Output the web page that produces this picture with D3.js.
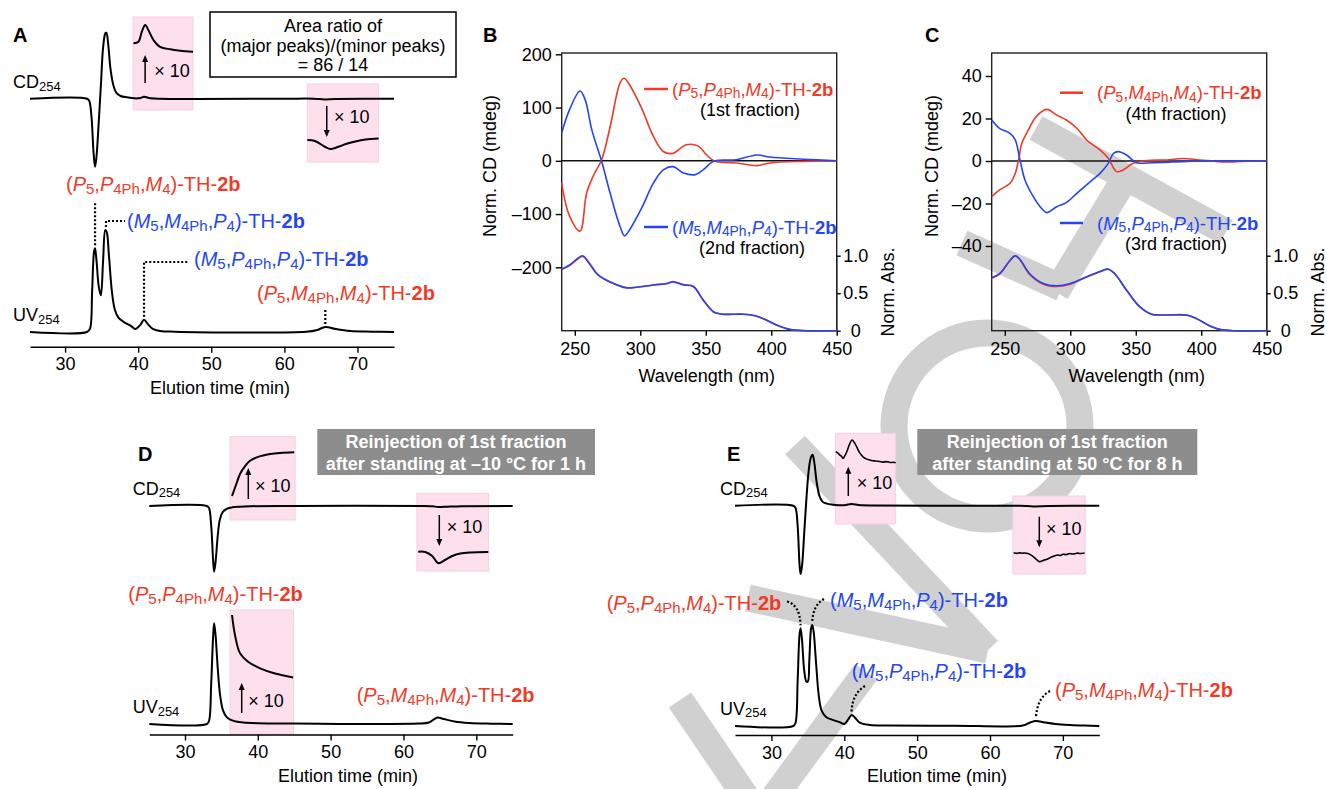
<!DOCTYPE html>
<html><head><meta charset="utf-8">
<script src="https://cdn.jsdelivr.net/npm/d3@7"></script>
<style>body{margin:0;background:#fff}svg{display:block;font-family:"Liberation Sans",Arial,Helvetica,sans-serif}</style>
</head><body><svg id="c" width="1327" height="789"></svg>
<script>
// ---------------- DATA ----------------
const timeTicks = [30, 40, 50, 60, 70];
const wlTicks = [250, 300, 350, 400, 450];
const cdTicksB = [200, 100, 0, -100, -200];
const cdTicksC = [40, 20, 0, -20, -40];
const absTicks = [0, 0.5, 1.0];

// Panel A chromatograms (time min, relative signal)
const aCdT = [25.2,33.0,33.3,33.6,33.9,34.1,34.3,34.6,34.9,35.2,35.5,35.65,35.9,36.2,36.6,37.0,37.6,38.5,39.5,40.3,40.8,41.5,43,60,64,65.5,67,75];
const aCdV = [0,0,-3,-25,-80,-100,-85,-35,20,75,96,97,80,45,20,9,4,2,0.5,1,3,1,0,0,0,-1,-0.5,0];
const aUvT = [25.2,33.0,33.4,33.7,33.95,34.1,34.3,34.6,34.9,35.2,35.5,35.7,36.0,36.4,36.8,37.3,38.0,39.0,39.6,40.3,40.8,41.3,42,43,45,63,64.5,65.6,67,69,72,75];
const aUvV = [0,0,3,40,78,82,70,45,36,70,100,98,75,40,22,14,10,6,3,7,12,8,3,1,0.3,0.2,2,5,3,1,0.3,0];
const aIn1T = [39.36,40.04,40.5,40.96,41.4,42.1,43.0,44.4,45.75,47.5];
const aIn1V = [32,38,75,100,81,44,19,10,5,1];
const aIn2T = [63.15,64.2,65.6,66.3,67.3,68.4,69.7,71.1,72.9];
const aIn2V = [-18,-27,-82,-100,-82,-55,-32,-14,-5];

// Panel D
const dCdT = [25.1,33.0,33.3,33.6,33.85,34.0,34.2,34.5,34.8,35.2,35.8,36.5,37.5,39,45,63,64,64.8,66,68,75];
const dCdV = [0,0,-3,-30,-80,-100,-85,-45,-20,-9,-4,-2,-1,-0.3,0,0,-0.5,-1.5,-1,-0.3,0];
const dUvT = [25.1,33.0,33.3,33.6,33.85,34.0,34.2,34.5,34.8,35.2,35.7,36.3,37,38,40,45,62,63.5,64.6,65.5,67,69,72,75];
const dUvV = [0,0,3,40,85,100,88,55,30,14,7,4,2.5,1.5,0.8,0.5,0.4,1.5,6.3,5,2.5,1,0.3,0];
const dIn1T = [36.46,37.0,37.56,38.25,38.93,40.03,41.68,43.06,45.0];
const dIn1V = [-100,-75,-50,-32,-20,-11,-4.5,-2,-0.7];
const dIn2T = [62.03,63.0,63.95,64.8,65.7,66.7,67.8,69.2,71.65];
const dIn2V = [-2,-4,-38,-100,-72,-38,-17,-8,-4];
const dInUvT = [36.46,36.87,37.56,38.66,40.31,42.37,44.85];
const dInUvV = [100,69,41,28,18,10,4];

// Panel E
const eCdT = [25,33.0,33.3,33.6,33.85,34.0,34.2,34.5,34.8,35.1,35.4,35.65,35.9,36.2,36.6,37.0,37.6,38.5,40,41,42,44,60,64,66,68,75];
const eCdV = [0,0,-3,-30,-85,-100,-88,-40,10,50,70,74.5,62,35,14,6,3,1.5,0.8,2.5,1,0.3,0,0,-1,-0.5,0];
const eUvT = [25,33.0,33.3,33.6,33.85,34.0,34.2,34.5,34.8,35.0,35.2,35.45,35.6,35.8,36.1,36.5,36.9,37.5,38.4,39.3,40.0,40.5,41.0,41.5,42.2,43.5,46,55,64.5,65.5,66.3,67.5,69,71,73,75];
const eUvV = [0,0,3,45,90,96.7,85,55,44,44,65,97,100,93,65,30,15,9,6,4,2,6,11,8,3,1,0.5,0.3,0.5,3.5,5,3.5,2,1,0.4,0];
const eIn1T = [38.82,39.1,39.37,39.6,39.82,40.05,40.33,40.7,41.06,41.4,41.7,42.1,42.57,43.0,43.49,43.9,44.3,44.86,45.3,45.8,46.3,46.7,47.05];
const eIn1V = [49,44,35,30,20,30,48,80,100,88,70,45,27,18,13,10,9,6.5,4,6,2,3,1.3];
const eIn2T = [63.24,63.7,64.1,64.5,64.75,65.3,65.84,66.3,66.8,67.3,67.9,68.6,69.27,69.7,70.0,70.5,70.92,71.3,71.6,72.0,72.3,72.98];
const eIn2V = [3,-4,2,-3,0,-8,-35,-70,-100,-85,-69,-40,-23,-28,-14,-18,-6,-12,-9,-2,-6,0];

// Panel B spectra
const bRedWl = [240,246,254,259,264,270.5,277,284.5,287.6,292,301,310,317.6,325,335,344,350.7,357,373.6,389,399,424.5,450];
const bRedCD = [-42,-104,-132,-61,-29,2,64,146,155,142,99,46,17.5,14,30,28,11,-1,-4,-9,-4,-1,0];
const bBlueWl = [240,246,254,258,263,270.5,277,284.5,288,292,301,310,317.6,325,333,342,348,356,373.6,389,399,424.5,450];
const bBlueCD = [52,96,131,114,58,-1,-61,-123,-141,-129,-89,-42,-17,-11,-23,-26,-17,-1,2,11,7,3,0];
const bAbsWl = [240,246,256,260,268,277,289.6,297,310,320,325,333,340.5,348,356,363,378.7,387.6,394,404,414,424.5,450];
const bRedAbs = [0.82,0.87,0.99,0.93,0.74,0.65,0.575,0.58,0.61,0.625,0.655,0.615,0.59,0.41,0.25,0.22,0.22,0.2,0.16,0.077,0.02,0.002,0];
const bBlueAbs = [0.82,0.876,1.0,0.92,0.74,0.65,0.57,0.58,0.61,0.63,0.65,0.61,0.59,0.41,0.25,0.22,0.22,0.2,0.16,0.076,0.018,0,0];

// Panel C spectra
const cRedWl = [240,246,254,258,260.5,263,268,274,282,289.6,297,305,312.5,322.7,329,335.4,340.5,348,358,373.6,386,399,419,437,450];
const cRedCD = [-16.8,-13.6,-10.5,-5.8,0.5,8.3,14.6,20.9,24.3,21.6,19.3,15.4,9.9,5.2,1.3,-5,-4.2,-1.1,0.2,0.5,1.2,0.5,-0.5,0,0];
const cBlueWl = [240,246,254,258,261.6,265.4,271.8,277,282,289.6,297,305,313.8,322.7,329,333,336.7,343,350.7,363,378.7,399,450];
const cBlueCD = [19.3,15.4,13,9.9,0.5,-8.9,-16.8,-21.5,-24.3,-21.5,-19.6,-15.2,-10.5,-5.8,-1.1,3.6,4.4,2.8,-0.8,-0.8,-0.5,0,0];
const cAbsWl = [240,246,254,258,261.6,269,279.4,289.6,300,312.5,322.7,329,334,343,353,362,373.6,389,396.6,406.7,414,424.5,450];
const cRedAbs = [0.70,0.755,0.935,0.995,0.945,0.75,0.62,0.59,0.62,0.715,0.785,0.82,0.76,0.54,0.32,0.22,0.21,0.205,0.16,0.062,0.018,0,0];
const cBlueAbs = [0.71,0.76,0.94,1.0,0.95,0.76,0.63,0.6,0.63,0.72,0.79,0.82,0.76,0.54,0.32,0.22,0.21,0.21,0.16,0.062,0.018,0,0];

// Labels
const isoPPM = [["(","n"],["P","i"],["5","s"],[",","n"],["P","i"],["4Ph","s"],[",","n"],["M","i"],["4","s"],[")-TH-","n"],["2b","b"]];
const isoMMP = [["(","n"],["M","i"],["5","s"],[",","n"],["M","i"],["4Ph","s"],[",","n"],["P","i"],["4","s"],[")-TH-","n"],["2b","b"]];
const isoMPP = [["(","n"],["M","i"],["5","s"],[",","n"],["P","i"],["4Ph","s"],[",","n"],["P","i"],["4","s"],[")-TH-","n"],["2b","b"]];
const isoPMM = [["(","n"],["P","i"],["5","s"],[",","n"],["M","i"],["4Ph","s"],[",","n"],["M","i"],["4","s"],[")-TH-","n"],["2b","b"]];
const cdLab = [["CD","n"],["254","s"]];
const uvLab = [["UV","n"],["254","s"]];

// ---------------- DRAW ----------------
const RED = "#ef3a28", BLUE = "#2446f0", PINK = "#fde0ec";
const svg = d3.select("#c");
const zip = (a, b) => a.map((v, i) => [v, b[i]]);

// watermark (under everything)
const wm = svg.append("g").attr("fill", "none").attr("stroke", "#d0d0d0").attr("stroke-width", 27);
wm.append("line").attr("x1", 1036).attr("y1", 128).attr("x2", 1226).attr("y2", 232);
wm.append("line").attr("x1", 962).attr("y1", 243).attr("x2", 1062).attr("y2", 288);
wm.append("line").attr("x1", 1056).attr("y1", 292).attr("x2", 1124).attr("y2", 180);
wm.append("circle").attr("cx", 987).attr("cy", 426).attr("r", 93);
wm.append("line").attr("x1", 795).attr("y1", 445).attr("x2", 988).attr("y2", 650);
wm.append("line").attr("x1", 748).attr("y1", 598).attr("x2", 988).attr("y2", 650);
wm.append("line").attr("x1", 680).attr("y1", 700).attr("x2", 748).attr("y2", 800);
wm.append("line").attr("x1", 772).attr("y1", 800).attr("x2", 866).attr("y2", 672);

function rich(g, x, yc, segs, o) {
  o = o || {};
  const fs = o.fs || 20, sh = fs * 0.15;
  const t = g.append("text").attr("x", x).attr("y", yc + fs * 0.36)
    .attr("font-size", fs).attr("fill", o.color || "#000")
    .attr("text-anchor", o.anchor || "start");
  let shifted = false;
  segs.forEach(([s, k]) => {
    const ts = t.append("tspan").text(s);
    if (k === "s") {
      ts.attr("font-size", fs * (o.sub || 0.75));
      if (!shifted) { ts.attr("dy", sh); shifted = true; }
    } else {
      if (shifted) { ts.attr("dy", -sh); shifted = false; }
      if (k === "i") ts.attr("font-style", "italic");
      if (k === "b") ts.attr("font-weight", "bold");
    }
  });
  return t;
}
function txt(g, x, yc, s, o) {
  o = o || {};
  const fs = o.fs || 18;
  return g.append("text").attr("x", x).attr("y", yc + fs * 0.36).attr("font-size", fs)
    .attr("fill", o.color || "#000").attr("text-anchor", o.anchor || "start")
    .attr("font-weight", o.bold ? "bold" : null).text(s);
}
function arrow(g, x, y1, y2) {
  const dir = y2 < y1 ? -1 : 1;
  g.append("line").attr("x1", x).attr("x2", x).attr("y1", y1).attr("y2", y2 - dir * 6)
    .attr("stroke", "#000").attr("stroke-width", 1.5);
  g.append("path").attr("d", `M${x - 3},${y2 - dir * 7}L${x + 3},${y2 - dir * 7}L${x},${y2}Z`).attr("fill", "#000");
}
const curve = d3.curveCatmullRom.alpha(0.5);
function trace(g, pts, x, y, o) {
  o = o || {};
  g.append("path").datum(pts).attr("fill", "none").attr("stroke", o.color || "#000")
    .attr("stroke-width", o.w || 2).attr("stroke-linejoin", "round")
    .attr("d", d3.line().x(d => x(d[0])).y(d => y(d[1])).curve(curve));
}
function timeAxis(g, x, y, titleX) {
  const ax = g.append("g").attr("transform", `translate(0,${y})`)
    .call(d3.axisBottom(x).tickValues(timeTicks).tickSize(6).tickSizeOuter(0).tickPadding(5));
  ax.attr("font-family", null);
  ax.select(".domain").attr("stroke-width", 1.6);
  ax.selectAll(".tick line").attr("stroke-width", 1.4);
  ax.selectAll("text").attr("font-size", 18);
  txt(g, titleX, y + 41, "Elution time (min)", { anchor: "middle" });
}
function pinkBox(g, x, t0, t1, y0, y1) {
  g.append("rect").attr("x", x(t0)).attr("y", y0).attr("width", x(t1) - x(t0)).attr("height", y1 - y0)
    .attr("fill", PINK).attr("stroke", "#f7cfe0").attr("stroke-width", 1);
}
function dotted(g, d) {
  g.append("path").attr("d", d).attr("fill", "none").attr("stroke", "#000")
    .attr("stroke-width", 2.2).attr("stroke-dasharray", "2,2");
}

// ===== Panel A =====
{
  const g = svg.append("g");
  const x = d3.scaleLinear().domain([25.2, 75]).range([30, 394]);
  const yCd = d3.scaleLinear().domain([-100, 100]).range([166.7, 30.7]);
  const yUv = d3.scaleLinear().domain([0, 100]).range([332, 230]);
  const yI1 = d3.scaleLinear().domain([0, 100]).range([52, 25]);
  const yI2 = d3.scaleLinear().domain([-100, 0]).range([149, 138]);
  pinkBox(g, x, 39.3, 47.5, 17, 110);
  pinkBox(g, x, 63.15, 72.9, 84, 162);
  trace(g, zip(aCdT, aCdV), x, yCd);
  trace(g, zip(aUvT, aUvV), x, yUv);
  trace(g, zip(aIn1T, aIn1V), x, yI1);
  trace(g, zip(aIn2T, aIn2V), x, yI2);
  arrow(g, x(40.95), 83, 55); txt(g, x(42.2), 71, "× 10");
  arrow(g, x(65.8), 106, 137); txt(g, x(66.8), 117, "× 10");
  g.append("rect").attr("x", 210).attr("y", 12).attr("width", 246).attr("height", 65)
    .attr("fill", "#fff").attr("stroke", "#000").attr("stroke-width", 1.5);
  txt(g, 333, 26, "Area ratio of", { anchor: "middle" });
  txt(g, 333, 45.5, "(major peaks)/(minor peaks)", { anchor: "middle" });
  txt(g, 333, 65, "= 86 / 14", { anchor: "middle" });
  txt(g, 13, 35, "A", { fs: 20, bold: true });
  rich(g, 13, 82, cdLab, { fs: 18, sub: 0.72 });
  rich(g, 13, 315, uvLab, { fs: 18, sub: 0.72 });
  rich(g, 66, 184, isoPPM, { color: RED });
  dotted(g, `M${x(34.1)},${yUv(82) - 3}V202`);
  rich(g, 127, 221, isoMMP, { color: BLUE });
  dotted(g, `M${x(35.6)},${yUv(100) - 3}V221H125`);
  rich(g, 194, 259, isoMPP, { color: BLUE });
  dotted(g, `M${x(40.8)},${yUv(12) - 3}V262H188`);
  rich(g, 257, 293, isoPMM, { color: RED });
  dotted(g, `M${x(65.6)},${yUv(5) - 3}V309`);
  timeAxis(g, x, 346.7, 220);
}

// ===== Panel D =====
{
  const g = svg.append("g");
  const x = d3.scaleLinear().domain([25.1, 75]).range([149.3, 512.7]);
  const yCd = d3.scaleLinear().domain([-100, 0]).range([571.7, 506]);
  const yUv = d3.scaleLinear().domain([0, 100]).range([724, 623.3]);
  const yI1 = d3.scaleLinear().domain([-100, 0]).range([496, 452]);
  const yI2 = d3.scaleLinear().domain([-100, 0]).range([563.3, 551.5]);
  const yIu = d3.scaleLinear().domain([0, 100]).range([680, 615]);
  pinkBox(g, x, 36.19, 45.12, 436.7, 520);
  pinkBox(g, x, 61.85, 71.69, 493.3, 571);
  pinkBox(g, x, 36.19, 44.89, 610, 734);
  trace(g, zip(dCdT, dCdV), x, yCd);
  trace(g, zip(dUvT, dUvV), x, yUv);
  trace(g, zip(dIn1T, dIn1V), x, yI1);
  trace(g, zip(dIn2T, dIn2V), x, yI2);
  trace(g, zip(dInUvT, dInUvV), x, yIu);
  arrow(g, 248.3, 499, 468); txt(g, 255, 486, "× 10");
  arrow(g, 439.3, 515, 546); txt(g, 446.7, 526.7, "× 10");
  arrow(g, 241.7, 713, 683); txt(g, 248.3, 701, "× 10");
  g.append("rect").attr("x", 317.3).attr("y", 429).attr("width", 277.7).attr("height", 46).attr("fill", "#8d8d8d");
  txt(g, 456, 441.7, "Reinjection of 1st fraction", { anchor: "middle", bold: true, color: "#fff" });
  txt(g, 456, 463.3, "after standing at –10 °C for 1 h", { anchor: "middle", bold: true, color: "#fff" });
  txt(g, 138, 453.3, "D", { fs: 20, bold: true });
  rich(g, 132.7, 488.3, cdLab, { fs: 18, sub: 0.72 });
  rich(g, 132.7, 706.7, uvLab, { fs: 18, sub: 0.72 });
  rich(g, 128.3, 594, isoPPM, { color: RED });
  rich(g, 356.7, 694.3, isoPMM, { color: RED });
  timeAxis(g, x, 734.5, 348);
}

// ===== Panel E =====
{
  const g = svg.append("g");
  const x = d3.scaleLinear().domain([25, 75]).range([735, 1099.3]);
  const yCd = d3.scaleLinear().domain([-100, 0]).range([574, 505.7]);
  const yUv = d3.scaleLinear().domain([0, 100]).range([726, 625]);
  const yI1 = d3.scaleLinear().domain([0, 100]).range([463, 440]);
  const yI2 = d3.scaleLinear().domain([-100, 0]).range([561.7, 553]);
  pinkBox(g, x, 38.78, 47.05, 433.3, 524);
  pinkBox(g, x, 63.14, 73.07, 496, 574);
  trace(g, zip(eCdT, eCdV), x, yCd);
  trace(g, zip(eUvT, eUvV), x, yUv);
  trace(g, zip(eIn1T, eIn1V), x, yI1, { w: 1.6 });
  trace(g, zip(eIn2T, eIn2V), x, yI2, { w: 1.6 });
  arrow(g, 848.3, 496, 466.7); txt(g, 856.7, 482.7, "× 10");
  arrow(g, 1039.3, 516.7, 547.3); txt(g, 1046, 528.3, "× 10");
  g.append("rect").attr("x", 917.3).attr("y", 429).attr("width", 280).attr("height", 46).attr("fill", "#8d8d8d");
  txt(g, 1057.3, 441.7, "Reinjection of 1st fraction", { anchor: "middle", bold: true, color: "#fff" });
  txt(g, 1057.3, 463.3, "after standing at 50 °C for 8 h", { anchor: "middle", bold: true, color: "#fff" });
  txt(g, 727, 453.3, "E", { fs: 20, bold: true });
  rich(g, 720, 488.3, cdLab, { fs: 18, sub: 0.72 });
  rich(g, 720, 708.3, uvLab, { fs: 18, sub: 0.72 });
  rich(g, 606.7, 602.7, isoPPM, { color: RED });
  dotted(g, `M787,601.5Q800,605 ${x(34.0)},${yUv(96.7) - 3}`);
  rich(g, 830, 600, isoMMP, { color: BLUE });
  dotted(g, `M824,599Q813,605 ${x(35.6)},${yUv(100) - 3}`);
  rich(g, 851.7, 670.7, isoMPP, { color: BLUE });
  dotted(g, `M865,686Q852,694 ${x(41.0)},${yUv(11) - 3}`);
  rich(g, 1055, 689.3, isoPMM, { color: RED });
  dotted(g, `M1050,691Q1037,698 ${x(66.3)},${yUv(5) - 3}`);
  timeAxis(g, x, 735, 937);
}

// ===== Spectra panels =====
function specPanel(o) {
  const g = svg.append("g");
  const x = d3.scaleLinear().domain([240, 450]).range([o.x0, o.x0 + 275]);
  const y = d3.scaleLinear().domain(o.cdDom).range(o.cdRange);
  const ya = d3.scaleLinear().domain([0, 1]).range([330.7, 255.7]);
  const top = 53, bot = 330.7;
  g.append("rect").attr("x", o.x0).attr("y", top).attr("width", 275).attr("height", bot - top)
    .attr("fill", "none").attr("stroke", "#222").attr("stroke-width", 1.4);
  g.append("line").attr("x1", o.x0).attr("x2", o.x0 + 275).attr("y1", y(0)).attr("y2", y(0))
    .attr("stroke", "#111").attr("stroke-width", 1.5);
  const ax = g.append("g").attr("transform", `translate(0,${bot})`)
    .call(d3.axisBottom(x).tickValues(wlTicks).tickSize(5).tickSizeOuter(0).tickPadding(7));
  const ay = g.append("g").attr("transform", `translate(${o.x0},0)`)
    .call(d3.axisLeft(y).tickValues(o.cdTicks).tickSize(6).tickSizeOuter(0).tickPadding(4)
      .tickFormat(d => d < 0 ? "–" + Math.abs(d) : d));
  const ar = g.append("g").attr("transform", `translate(${o.x0 + 275},0)`)
    .call(d3.axisRight(ya).tickValues(absTicks).tickSize(4).tickSizeOuter(0).tickPadding(3)
      .tickFormat(d => d === 0 ? "0" : d3.format(".1f")(d)));
  ar.selectAll("text").attr("text-anchor", "middle").attr("x", 19);
  [ax, ay, ar].forEach(a => {
    a.attr("font-family", null);
    a.select(".domain").remove();
    a.selectAll(".tick line").attr("stroke-width", 1.4);
    a.selectAll("text").attr("font-size", 18);
  });
  ar.append("line").attr("y1", 255.7).attr("y2", bot).attr("stroke", "#222").attr("stroke-width", 1.4);
  o.abs.forEach(s => trace(g, zip(s.wl, s.v), x, ya, { color: s.c, w: 1.6 }));
  o.cd.forEach(s => trace(g, zip(s.wl, s.v), x, y, { color: s.c, w: 1.6 }));
  txt(g, o.x0 + 145, 376, "Wavelength (nm)", { anchor: "middle" });
  g.append("text").attr("transform", `translate(${o.x0 + o.ylabDx},166) rotate(-90)`).attr("font-size", 18)
    .attr("text-anchor", "middle").attr("dy", "0.36em").text("Norm. CD (mdeg)");
  g.append("text").attr("transform", `translate(${o.x0 + 326},292) rotate(-90)`).attr("font-size", 18)
    .attr("text-anchor", "middle").attr("dy", "0.36em").text("Norm.  Abs.");
  txt(g, o.letterX, 35, o.letter, { fs: 20, bold: true });
  o.leg.forEach(l => {
    g.append("line").attr("x1", l.lx0).attr("x2", l.lx1).attr("y1", l.y).attr("y2", l.y)
      .attr("stroke", l.c).attr("stroke-width", 2.5);
    rich(g, l.tx, l.y, l.segs, { color: l.c, fs: 18.5 });
    txt(g, l.fx, l.y + 21, l.frac, { anchor: "middle" });
  });
}
specPanel({
  x0: 561.7, letter: "B", letterX: 483, ylabDx: -72, cdDom: [-200, 200], cdRange: [267.3, 54.3], cdTicks: cdTicksB,
  abs: [{ wl: bAbsWl, v: bRedAbs, c: RED }, { wl: bAbsWl, v: bBlueAbs, c: BLUE }],
  cd: [{ wl: bRedWl, v: bRedCD, c: RED }, { wl: bBlueWl, v: bBlueCD, c: BLUE }],
  leg: [
    { lx0: 644, lx1: 668, tx: 672, y: 89, c: RED, segs: isoPPM, fx: 750, frac: "(1st fraction)" },
    { lx0: 644, lx1: 668, tx: 672, y: 227, c: BLUE, segs: isoMMP, fx: 752, frac: "(2nd fraction)" }
  ]
});
specPanel({
  x0: 991.7, letter: "C", letterX: 925, ylabDx: -60, cdDom: [-40, 40], cdRange: [246, 76], cdTicks: cdTicksC,
  abs: [{ wl: cAbsWl, v: cRedAbs, c: RED }, { wl: cAbsWl, v: cBlueAbs, c: BLUE }],
  cd: [{ wl: cRedWl, v: cRedCD, c: RED }, { wl: cBlueWl, v: cBlueCD, c: BLUE }],
  leg: [
    { lx0: 1060, lx1: 1083, tx: 1097, y: 92.7, c: RED, segs: isoPMM, fx: 1176, frac: "(4th fraction)" },
    { lx0: 1060, lx1: 1083, tx: 1097, y: 223, c: BLUE, segs: isoMPP, fx: 1176, frac: "(3rd fraction)" }
  ]
});
</script></body></html>
